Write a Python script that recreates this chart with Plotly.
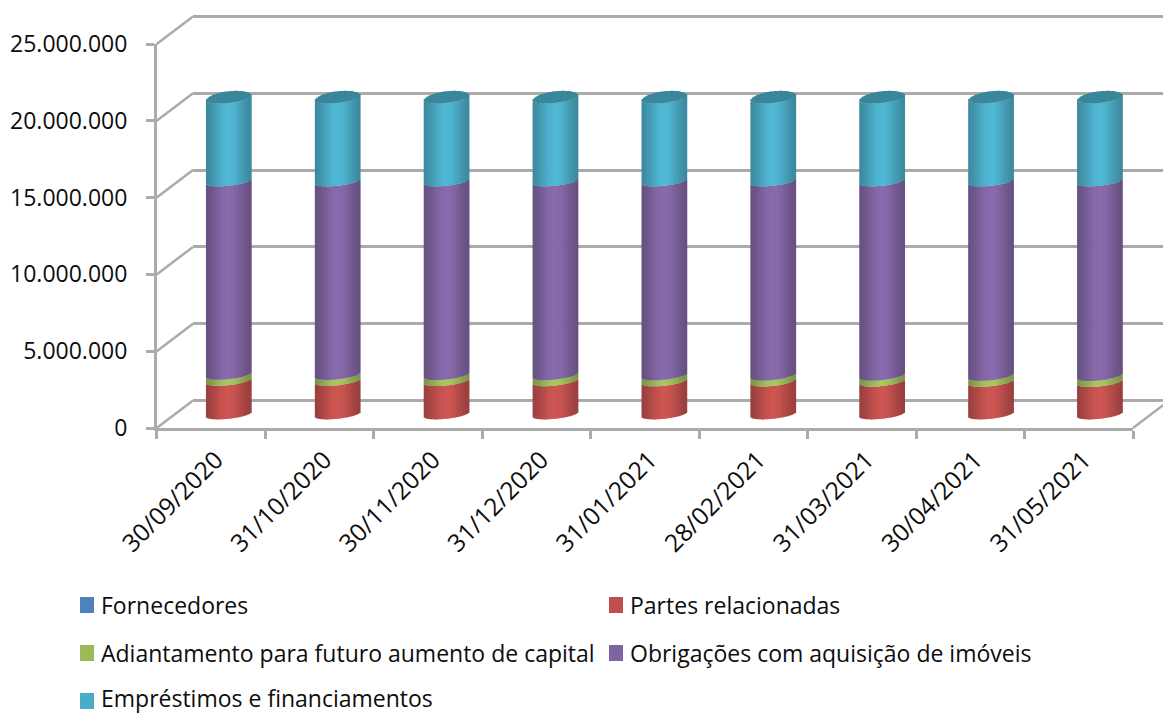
import math
import plotly.graph_objects as go

W, H = 1163, 713

dates = ["30/09/2020", "31/10/2020", "30/11/2020", "31/12/2020", "31/01/2021",
         "28/02/2021", "31/03/2021", "30/04/2021", "31/05/2021"]
fornecedores = [0, 0, 0, 0, 0, 0, 0, 0, 0]
partes = [2190000, 2180000, 2170000, 2160000, 2150000, 2140000, 2130000, 2120000, 2110000]
adiantamento = [390000, 390000, 390000, 390000, 390000, 390000, 390000, 390000, 390000]
obrigacoes = [12590000, 12600000, 12610000, 12620000, 12630000, 12640000, 12650000, 12660000, 12670000]
emprestimos = [5400000, 5400000, 5400000, 5400000, 5400000, 5400000, 5400000, 5400000, 5400000]
y_ticks = [0, 5000000, 10000000, 15000000, 20000000, 25000000]
y_labels = ["0", "5.000.000", "10.000.000", "15.000.000", "20.000.000", "25.000.000"]

series = [("Fornecedores", fornecedores, "#4F81BD"),
          ("Partes relacionadas", partes, "#C0504D"),
          ("Adiantamento para futuro aumento de capital", adiantamento, "#9BBB59"),
          ("Obrigações com aquisição de imóveis", obrigacoes, "#8064A2"),
          ("Empréstimos e financiamentos", emprestimos, "#4BACC6")]
legend_pos = [(80, 605, 605), (609, 605, 605), (80, 653, 653), (609, 653, 653), (80, 701, 698)]

FONT = "Open Sans"
FS = 23
XFS = 24.5
TXT = "#0D0D0D"
GRID = "#ABABAB"
LW = 2.5

def shade(hex_c, f):
    r, g, b = (int(hex_c[i:i + 2], 16) for i in (1, 3, 5))
    return "rgb(%d,%d,%d)" % tuple(min(255, round(c * f)) for c in (r, g, b))

def light(u):
    return 0.74 + 0.33 * math.exp(-(u / 0.75) ** 2)

SCALE = 76.8 / 5000000
front_y0, back_y0, mid_y0 = 428, 400.5, 414.25
front_x = (156.7, 1133)
back_x0 = 193
mid_x = (174, 1154)
bar_px = 45
step_px = (mid_x[1] - mid_x[0]) / 9
LO, HI = -1000000, 25500000

def ydom(y0, lo=0, hi=25000000):
    return [1 - (y0 - lo * SCALE) / H, 1 - (y0 - hi * SCALE) / H]

fig = go.Figure()
fig.add_trace(go.Scatter(x=[0, 1], y=[0, 0], mode="lines", line_color="rgba(0,0,0,0)",
                         xaxis="x", yaxis="y", showlegend=False, hoverinfo="skip"))

N = 30
tilt_px, b_px, lid_px = 2.5, 4.5, 7.0
tot = [0.0] * len(dates)
for name, vals, color in series:
    base0 = list(tot)
    for k in range(N):
        u = -1 + (2 * k + 1) / N
        front = (tilt_px * u - b_px * math.sqrt(1 - u * u)) / SCALE
        fig.add_trace(go.Bar(
            x=dates, y=vals, base=[b + front for b in base0],
            width=(2 / N) * 1.5 * (bar_px / 2) / step_px,
            offset=(u - 1 / N) * (bar_px / 2) / step_px,
            marker=dict(color=shade(color, light(u)), line_width=0),
            xaxis="x2", yaxis="y2", name=name, showlegend=False, hoverinfo="skip"))
    tot = [t + v for t, v in zip(tot, vals)]

for k in range(N):
    u = -1 + (2 * k + 1) / N
    s = math.sqrt(1 - u * u)
    front = (tilt_px * u - b_px * s) / SCALE
    back = (tilt_px * u + lid_px * s) / SCALE
    fig.add_trace(go.Bar(
        x=dates, y=[back - front] * len(dates), base=[t + front for t in tot],
        width=(2 / N) * 1.5 * (bar_px / 2) / step_px,
        offset=(u - 1 / N) * (bar_px / 2) / step_px,
        marker=dict(color=shade("#4BACC6", 0.78), line_width=0),
        xaxis="x2", yaxis="y2", showlegend=False, hoverinfo="skip"))

fig.add_trace(go.Scatter(x=dates, y=[0] * len(dates), mode="lines", line_color="rgba(0,0,0,0)",
                         xaxis="x3", yaxis="y3", showlegend=False, hoverinfo="skip"))

shapes = []
for v in y_ticks:
    shapes.append(dict(type="line", xref="paper", yref="paper", layer="below",
                       x0=front_x[0] / W, x1=back_x0 / W,
                       y0=1 - (front_y0 - v * SCALE) / H, y1=1 - (back_y0 - v * SCALE) / H,
                       line=dict(color=GRID, width=LW)))
shapes.append(dict(type="line", xref="paper", yref="paper", layer="below",
                   x0=front_x[1] / W, x1=(front_x[1] + back_x0 - front_x[0]) / W,
                   y0=1 - front_y0 / H, y1=1 - back_y0 / H,
                   line=dict(color=GRID, width=LW)))

annotations = []
for (name, vals, color), (lx, my, ty) in zip(series, legend_pos):
    shapes.append(dict(type="rect", xref="paper", yref="paper", x0=lx / W, x1=(lx + 14) / W,
                       y0=1 - (my + 8) / H, y1=1 - (my - 8) / H, fillcolor=color, line_width=0))
    annotations.append(dict(text=name, xref="paper", yref="paper", x=(lx + 19) / W, y=1 - ty / H,
                            xanchor="left", yanchor="middle", showarrow=False,
                            font=dict(family=FONT, size=FS, color=TXT)))

fig.update_layout(
    width=W, height=H, autosize=False, margin=dict(l=0, r=0, t=0, b=0, pad=0),
    paper_bgcolor="white", plot_bgcolor="rgba(0,0,0,0)", barmode="overlay", showlegend=False,
    font=dict(family=FONT, size=FS, color=TXT),
    shapes=shapes, annotations=annotations,
    xaxis=dict(domain=[back_x0 / W, 1], visible=False, anchor="y", range=[0, 1]),
    yaxis=dict(domain=ydom(back_y0, -500000, HI), anchor="x", range=[-500000, HI], tickvals=y_ticks,
               showticklabels=False, showgrid=True, gridcolor=GRID, gridwidth=LW,
               zeroline=False, showline=False, ticks=""),
    xaxis2=dict(domain=[mid_x[0] / W, mid_x[1] / W], visible=False, anchor="y2", type="category",
                categoryorder="array", categoryarray=dates, range=[-0.5, 8.5]),
    yaxis2=dict(domain=ydom(mid_y0, LO, HI), visible=False, anchor="x2", range=[LO, HI]),
    xaxis3=dict(domain=[front_x[0] / W, front_x[1] / W], anchor="y3", type="category",
                categoryorder="array", categoryarray=dates, range=[-0.5, 8.5],
                tickson="boundaries", ticks="outside", ticklen=8, tickwidth=LW, tickcolor=GRID,
                showline=True, linecolor=GRID, linewidth=LW, showgrid=False, zeroline=False,
                tickangle=-45, automargin=False, ticklabelstandoff=5, ticklabelshift=5,
                tickfont=dict(family=FONT, size=XFS, color=TXT)),
    yaxis3=dict(domain=ydom(front_y0), anchor="x3", range=[0, 25000000], tickvals=y_ticks,
                ticktext=y_labels, ticks="outside", ticklen=8, tickwidth=LW, tickcolor=GRID,
                showline=True, linecolor=GRID, linewidth=LW, showgrid=False, zeroline=False,
                ticklabelstandoff=14, automargin=False,
                tickfont=dict(family=FONT, size=FS, color=TXT)),
)

fig.write_html("out.html", config=dict(displayModeBar=False),
               post_script="document.body.style.margin='0';")
